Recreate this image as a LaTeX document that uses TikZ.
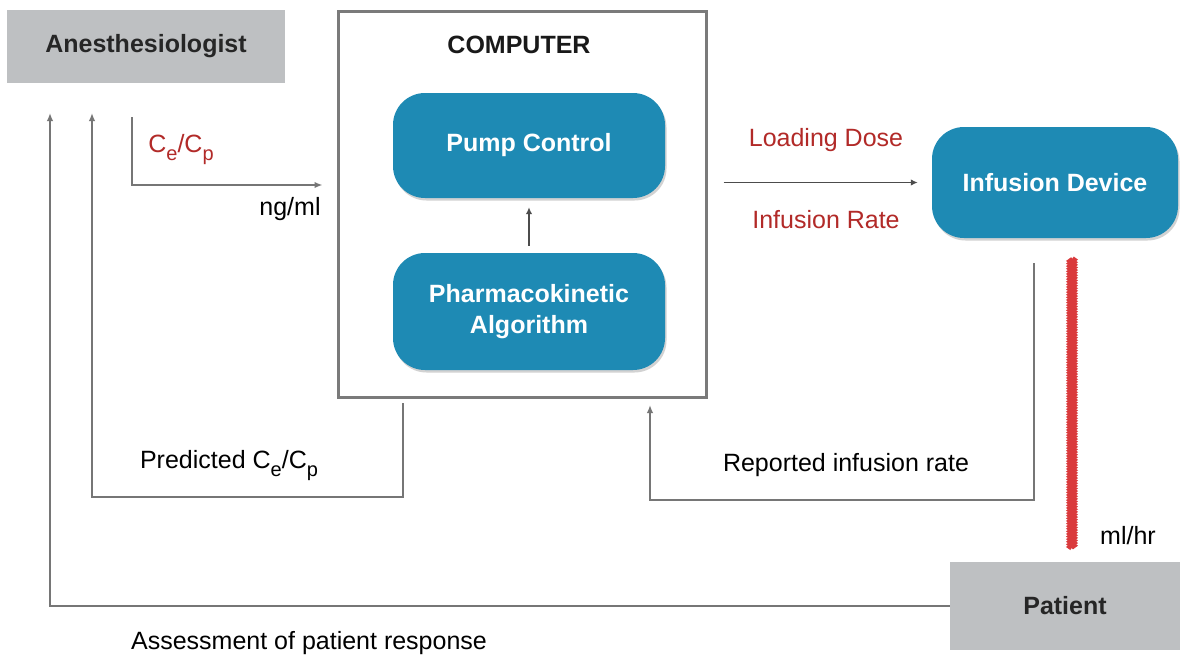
\documentclass[tikz,border=0pt]{standalone}
\usepackage{fontspec}
\setmainfont{Liberation Sans}
\usetikzlibrary{arrows.meta,decorations.pathmorphing,shadows}

\definecolor{boxgrey}{RGB}{190,192,194}
\definecolor{modblue}{RGB}{30,138,180}
\definecolor{labelred}{RGB}{178,42,40}
\definecolor{tubered}{RGB}{218,58,60}
\definecolor{wire}{RGB}{118,118,118}
\definecolor{frame}{RGB}{122,122,122}

% lowered, slightly smaller index letter (C_e, C_p)
\newcommand\lowidx[1]{\raisebox{-0.32em}{\fontsize{20}{20}\selectfont #1}}

\tikzset{
  txt/.style={font=\fontsize{25}{29}\selectfont, inner sep=0pt},
  btxt/.style={font=\fontsize{25}{29}\selectfont\bfseries, inner sep=0pt},
  greybox/.style={fill=boxgrey, draw=none, btxt, text=black!85},
  module/.style={fill=modblue, draw=none, rounded corners=32pt, btxt, text=white,
    align=center, drop shadow={opacity=0.25, fill=black!70, shadow xshift=1.5pt, shadow yshift=-2.5pt}},
  wireline/.style={draw=wire, line width=1.8pt},
  wirearrow/.style={wireline, -{Latex[length=8pt,width=6.5pt]}},
  darkarrow/.style={draw=black!70, line width=1.4pt, -{Latex[length=7pt,width=6.5pt]}},
  redlabel/.style={txt, text=labelred},
  tube/.style={draw=tubered, line width=6pt, decorate,
    decoration={zigzag, segment length=2.6pt, amplitude=0.9pt}},
}

\begin{document}
\begin{tikzpicture}[x=1pt, y=-1pt]
\useasboundingbox (0,0) rectangle (1180,657);
\fill[white] (0,0) rectangle (1180,657);

% --- blocks ---
\node[greybox, minimum width=278pt, minimum height=73pt] (anest) at (146,46.5) {Anesthesiologist};
\node[draw=frame, line width=3pt, minimum width=368pt, minimum height=386pt] (computer) at (522,204) {};
\node[btxt, text=black!90] (comptitle) at (519,45) {COMPUTER};
\node[module, minimum width=272pt, minimum height=105pt] (pump) at (529,145.5) {Pump Control};
\node[module, minimum width=272pt, minimum height=117pt] (pk) at (529,311.5) {Pharmacokinetic\\[2pt]Algorithm};
\node[module, minimum width=246pt, minimum height=111pt] (infusion) at (1055,182.5) {Infusion Device};
\node[greybox, minimum width=230pt, minimum height=88pt] (patient) at (1065,606) {Patient};

% --- connector end points ---
\coordinate (inA) at (50,113);
\coordinate (inB) at (92,113);
\coordinate (ceStart) at (132,117);
\coordinate (ceCorner) at (132,185);
\coordinate (predStart) at (403,403);
\coordinate (predCorner) at (403,497);
\coordinate (repStart) at (1034,263);
\coordinate (repCorner) at (1034,500);
\coordinate (repEnd) at (650,405);
\coordinate (tubeTop) at (1072,259);
\coordinate (tubeBot) at (1072,548);

% --- connectors ---
\draw[darkarrow, shorten <=7pt, shorten >=9pt] (pk.north) -- (pump.south);
\draw[darkarrow, shorten <=16pt, shorten >=14pt] (computer.east |- infusion.west) -- (infusion.west);
\draw[wirearrow, shorten >=14pt] (ceStart) -- (ceCorner) -- (ceCorner -| computer.west);
\draw[wirearrow] (predStart) -- (predCorner) -| (inB);
\draw[wirearrow] (repStart) -- (repCorner) -| (repEnd);
\draw[wirearrow] (patient.west) -| (inA);
\draw[tube] (tubeTop) -- (tubeBot);

% --- labels ---
\node[redlabel] (lblce) at (181,150) {C\lowidx{e}/C\lowidx{p}};
\node[txt] (lblng) at (290,209) {ng/ml};
\node[redlabel] (lblload) at (826,140) {Loading Dose};
\node[redlabel] (lblrate) at (826,220) {Infusion Rate};
\node[txt] (lblpred) at (229,466) {Predicted C\lowidx{e}/C\lowidx{p}};
\node[txt] (lblrep) at (846,465) {Reported infusion rate};
\node[txt] (lblml) at (1128,536) {ml/hr};
\node[txt] (lblassess) at (309,643) {Assessment of patient response};
\end{tikzpicture}
\end{document}
